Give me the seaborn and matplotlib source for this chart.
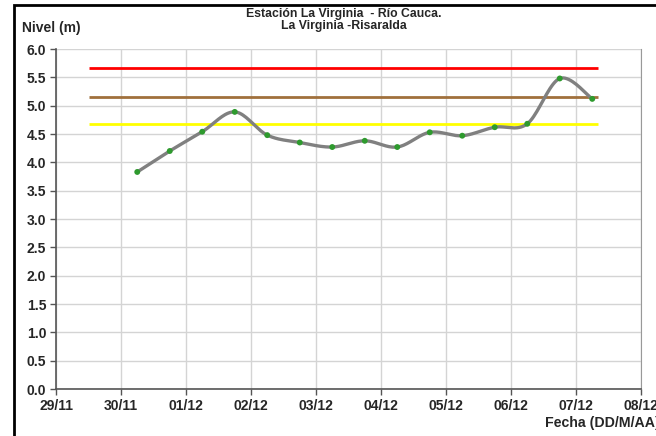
import numpy as np
import pandas as pd
import matplotlib
matplotlib.use("Agg")
import matplotlib.pyplot as plt
import matplotlib.dates as mdates
from matplotlib.patches import Rectangle
import seaborn as sns

# niveles cada 12 horas
fechas = pd.date_range("2010-11-30 06:00", periods=15, freq="12h")
nivel = [3.83, 4.20, 4.54, 4.89, 4.48, 4.35, 4.27, 4.38, 4.27, 4.53, 4.47, 4.62, 4.68, 5.48, 5.12]

# umbrales
umbral_rojo = 5.67
umbral_naranja = 5.16
umbral_amarillo = 4.67
umbral_inicio = pd.Timestamp("2010-11-29 12:00")
umbral_fin = pd.Timestamp("2010-12-07 08:00")

ticks_x = pd.date_range("2010-11-29", "2010-12-08", freq="D")
ticks_y = np.arange(0, 6.01, 0.5)

sns.set_style("whitegrid")
plt.rcParams['font.family'] = ['Liberation Sans', 'DejaVu Sans']

df = pd.DataFrame({"Fecha": fechas, "Nivel": nivel})
df["x"] = mdates.date2num(df["Fecha"])


def suavizar(x, y, n=20):
    # curva suavizada tipo Excel (Catmull-Rom)
    x = np.asarray(x, float)
    y = np.asarray(y, float)
    px = np.concatenate([[x[0]], x, [x[-1]]])
    py = np.concatenate([[y[0]], y, [y[-1]]])
    xs, ys = [], []
    t = np.linspace(0, 1, n, endpoint=False)
    for i in range(1, len(px) - 2):
        for p, out in ((px, xs), (py, ys)):
            p0, p1, p2, p3 = p[i - 1], p[i], p[i + 1], p[i + 2]
            c1 = p1 + (p2 - p0) / 6
            c2 = p2 - (p3 - p1) / 6
            out.extend((1 - t) ** 3 * p1 + 3 * (1 - t) ** 2 * t * c1 + 3 * (1 - t) * t ** 2 * c2 + t ** 3 * p2)
    xs.append(x[-1])
    ys.append(y[-1])
    return pd.DataFrame({"x": xs, "y": ys})


curva = suavizar(df["x"], df["Nivel"])

fig = plt.figure(figsize=(6.56, 4.36), dpi=100)
ax = fig.add_axes([56 / 656, 1 - 389 / 436, 585 / 656, 340 / 436])

x0, x1 = mdates.date2num([umbral_inicio, umbral_fin])
ax.hlines(umbral_rojo, x0, x1, color="#ff0000", lw=2, zorder=2)
ax.hlines(umbral_naranja, x0, x1, color="#a0703c", lw=2, zorder=2)
ax.hlines(umbral_amarillo, x0, x1, color="#ffff00", lw=2, zorder=2)

sns.lineplot(data=curva, x="x", y="y", sort=False, estimator=None, color="#808080", lw=2.4, ax=ax, zorder=3)
sns.scatterplot(data=df, x="x", y="Nivel", color="#2e9a2e", s=18, edgecolor="none", ax=ax, zorder=4)

ax.set_xlim(mdates.date2num(ticks_x[0]), mdates.date2num(ticks_x[-1]))
ax.set_ylim(0, 6)
ax.set_xticks(mdates.date2num(ticks_x))
ax.set_xticklabels([d.strftime("%d/%m") for d in ticks_x], fontsize=10, fontweight="bold")
ax.set_yticks(ticks_y)
ax.set_yticklabels([f"{v:.1f}" for v in ticks_y], fontsize=10, fontweight="bold")
ax.set_xlabel("")
ax.set_ylabel("")
ax.grid(True, color="#d4d4d4", lw=1)
ax.tick_params(axis="both", direction="out", length=4, width=1, color="#555555", pad=3, left=True, bottom=True)
for side in ["left", "bottom"]:
    ax.spines[side].set_color("#555555")
    ax.spines[side].set_linewidth(1.2)
ax.spines["right"].set_color("#999999")
ax.spines["top"].set_visible(False)

fig.text(344 / 656, 1 - 20 / 436, "Estación La Virginia  - Río Cauca.\nLa Virginia -Risaralda",
         ha="center", va="center", fontsize=8.8, fontweight="bold", linespacing=1.05)
fig.text(22 / 656, 1 - 28 / 436, "Nivel (m)", ha="left", va="center", fontsize=10, fontweight="bold")
fig.text(545 / 656, 1 - 423 / 436, "Fecha (DD/M/AA)", ha="left", va="center", fontsize=10.2, fontweight="bold")

fig.patches.append(Rectangle((14 / 656, -0.2), 1.2, 1 - 5 / 436 + 0.2, transform=fig.transFigure,
                             fill=False, edgecolor="black", lw=2))

fig.savefig("out.png", dpi=100)
